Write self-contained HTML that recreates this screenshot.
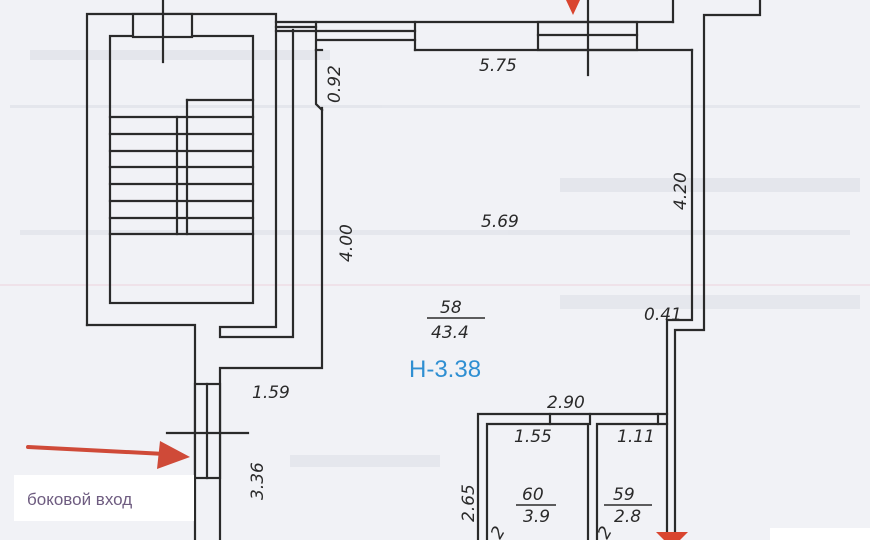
<!DOCTYPE html>
<html><head><meta charset="utf-8"><style>
html,body{margin:0;padding:0;width:870px;height:540px;overflow:hidden;background:#f1f2f6;}
svg{display:block}
.d{font-family:"DejaVu Sans","Liberation Sans",sans-serif;font-style:italic;font-size:17px;fill:#2a2a2a;}
</style></head><body>
<svg width="870" height="540" viewBox="0 0 870 540" xmlns="http://www.w3.org/2000/svg">
<rect width="870" height="540" fill="#f1f2f6"/>
<g fill="#c9ccd6" opacity="0.3">
<rect x="30" y="50" width="300" height="10"/>
<rect x="560" y="178" width="300" height="14"/>
<rect x="20" y="230" width="830" height="5"/>
<rect x="560" y="295" width="300" height="14"/>
<rect x="290" y="455" width="150" height="12"/>
<rect x="10" y="105" width="850" height="3"/>
</g>
<line x1="0" y1="285" x2="870" y2="285" stroke="#ecc6d2" stroke-width="1" opacity="0.7"/>
<g stroke="#2a2a2a" stroke-width="2.2" fill="none" stroke-linecap="square">
<polyline points="87,325 87,14 276,14 276,327 220,327 220,337 293,337 293,30"/>
<polyline points="87,325 195,325 195,540"/>
<rect x="110" y="36" width="143" height="267"/>
<rect x="133" y="14" width="59" height="23" fill="#f1f2f6"/>
<line x1="163" y1="0" x2="163" y2="62"/>
<line x1="177" y1="117" x2="177" y2="234"/>
<line x1="187" y1="100" x2="187" y2="234"/>
<line x1="187" y1="100" x2="253" y2="100"/>
<g>
<line x1="110" y1="117" x2="253" y2="117"/><line x1="110" y1="134" x2="253" y2="134"/>
<line x1="110" y1="151" x2="253" y2="151"/><line x1="110" y1="167" x2="253" y2="167"/>
<line x1="110" y1="184" x2="253" y2="184"/><line x1="110" y1="201" x2="253" y2="201"/>
<line x1="110" y1="218" x2="253" y2="218"/><line x1="110" y1="234" x2="253" y2="234"/>
</g>
<polyline points="322,108 322,368 220,368 220,540"/>
<line x1="316" y1="50" x2="322" y2="50"/>
<polyline points="316,50 316,104 322,110"/>
<line x1="276" y1="22" x2="673" y2="22"/>
<line x1="276" y1="27" x2="316" y2="27"/>
<line x1="276" y1="31" x2="316" y2="31"/>
<line x1="316" y1="22" x2="316" y2="50"/>
<line x1="318" y1="31" x2="415" y2="31"/>
<line x1="318" y1="40" x2="415" y2="40"/>
<line x1="415" y1="22" x2="415" y2="50"/>
<line x1="415" y1="50" x2="692" y2="50"/>
<rect x="538" y="22" width="99" height="28"/>
<line x1="538" y1="35" x2="637" y2="35"/>
<line x1="588" y1="0" x2="588" y2="75"/>
<line x1="673" y1="22" x2="673" y2="0"/>
<polyline points="692,50 692,320 667,320 667,540"/>
<polyline points="760,0 760,15 704,15 704,330 675,330 675,540"/>
<polyline points="478,540 478,414 667,414"/>
<polyline points="487,540 487,424 588,424 588,540"/>
<polyline points="597,540 597,424 667,424"/>
<line x1="590" y1="414" x2="590" y2="424"/>
<line x1="550" y1="414" x2="550" y2="424"/>
<line x1="658" y1="414" x2="658" y2="424"/>
<rect x="195" y="384" width="25" height="94" fill="#f1f2f6"/>
<line x1="207" y1="384" x2="207" y2="478"/>
<line x1="167" y1="433" x2="248" y2="433"/>
</g>
<text class="d" x="0" y="0" transform="translate(340,103) rotate(-90)" font-size="18">0.92</text>
<text class="d" x="0" y="0" transform="translate(352,262) rotate(-90)" font-size="18">4.00</text>
<text class="d" x="479" y="71" font-size="18">5.75</text>
<text class="d" x="481" y="227" font-size="18">5.69</text>
<text class="d" x="0" y="0" transform="translate(686,210) rotate(-90)" font-size="18">4.20</text>
<text class="d" x="644" y="320" font-size="17">0.41</text>
<text class="d" x="440" y="313" font-size="18">58</text>
<line x1="427" y1="318" x2="485" y2="318" stroke="#2a2a2a" stroke-width="1.5"/>
<text class="d" x="431" y="338" font-size="18">43.4</text>
<text x="409" y="377" font-family="'Liberation Sans','DejaVu Sans',sans-serif" font-size="24" fill="#2f8fd2">Н-3.38</text>
<text class="d" x="252" y="398" font-size="18">1.59</text>
<text class="d" x="547" y="408" font-size="18">2.90</text>
<text class="d" x="514" y="442" font-size="16">1.55</text>
<text class="d" x="617" y="442" font-size="16">1.11</text>
<text class="d" x="0" y="0" transform="translate(474,522) rotate(-90)" font-size="17">2.65</text>
<text class="d" x="522" y="500" font-size="17">60</text>
<line x1="516" y1="505" x2="556" y2="505" stroke="#2a2a2a" stroke-width="1.5"/>
<text class="d" x="523" y="522" font-size="17">3.9</text>
<text class="d" x="613" y="500" font-size="17">59</text>
<line x1="604" y1="505" x2="652" y2="505" stroke="#2a2a2a" stroke-width="1.5"/>
<text class="d" x="614" y="522" font-size="17">2.8</text>
<text class="d" x="0" y="0" transform="translate(263,500) rotate(-90)" font-size="18">3.36</text>
<text class="d" x="0" y="0" transform="translate(500,540) rotate(-60)" font-size="15">2</text>
<text class="d" x="0" y="0" transform="translate(607,540) rotate(-60)" font-size="15">2</text>
<path d="M566,0 L580,0 L573,15 Z" fill="#d9452f"/>
<line x1="28" y1="447" x2="165" y2="454" stroke="#cf4a38" stroke-width="4" stroke-linecap="round"/>
<path d="M160,441 L190,457 L157,469 Z" fill="#cf4a38"/>
<path d="M656,532 L688,532 L680,540 L664,540 Z" fill="#d9452f"/>
<rect x="14" y="475" width="180" height="46" fill="#ffffff"/>
<text x="27" y="505" font-family="'Liberation Sans','DejaVu Sans',sans-serif" font-size="17" fill="#6e5c80">боковой вход</text>
<rect x="770" y="528" width="100" height="12" fill="#ffffff"/>
</svg>
</body></html>
